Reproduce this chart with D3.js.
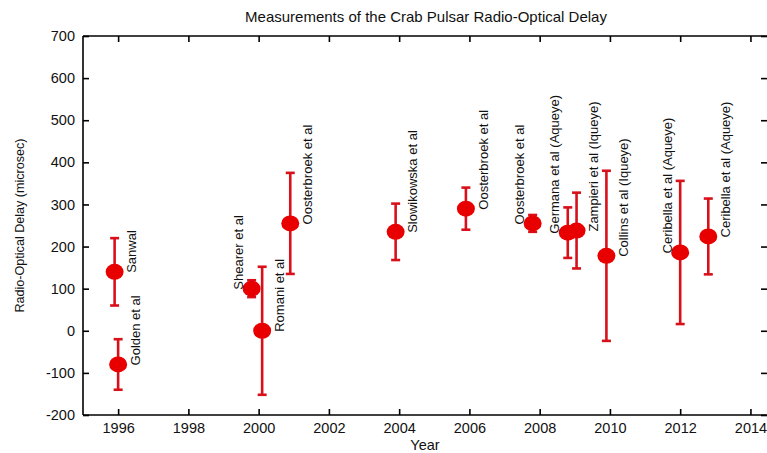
<!DOCTYPE html>
<html>
<head>
<meta charset="utf-8">
<script src="https://cdn.jsdelivr.net/npm/d3@7"></script>
<style>
  html, body { margin: 0; padding: 0; background: #fff; }
  svg { display: block; font-family: "Liberation Sans", Arial, sans-serif; }
</style>
</head>
<body>
<svg id="chart" width="767" height="453"></svg>
<script>
// Published radio-optical delay measurements of the Crab pulsar
const authors = [
  "Sanwal", "Golden et al", "Shearer et al", "Romani et al", "Oosterbroek et al",
  "Slowikowska et al", "Oosterbroek et al", "Oosterbroek et al", "Germana et al (Aqueye)",
  "Zampieri et al (Iqueye)", "Collins et al (Iqueye)", "Ceribella et al (Aqueye)", "Ceribella et al (Aqueye)"
];
const years  = [1995.9, 1996.0, 1999.8, 2000.1, 2000.9, 2003.9, 2005.9, 2007.8, 2008.8, 2009.05, 2009.9, 2012.0, 2012.8];
const delays = [140, -80, 100, 0, 255, 235, 290, 255, 233, 238, 178, 186, 224];
const errors = [80, 60, 20, 152, 120, 67, 50, 20, 60, 90, 202, 170, 90];

const yearTicks  = [1996, 1998, 2000, 2002, 2004, 2006, 2008, 2010, 2012, 2014];
const delayTicks = [-200, -100, 0, 100, 200, 300, 400, 500, 600, 700];

const svg = d3.select("#chart");
const L = 83, R = 768, T = 36, B = 415;

const x = d3.scaleLinear().domain([1995, 2014.5]).range([L, R]);
const y = d3.scaleLinear().domain([-200, 700]).range([B, T]);

const tickLen = 6;
const axisFont = "14.5px";
const plain = d => String(d);   // hyphen-minus, as printed on the axis

// Frame: bottom, top and left spines
svg.append("line").attr("x1", L).attr("x2", R).attr("y1", B).attr("y2", B)
  .attr("stroke", "#000").attr("stroke-width", 1.6);
svg.append("line").attr("x1", L).attr("x2", R).attr("y1", T).attr("y2", T)
  .attr("stroke", "#000").attr("stroke-width", 1.6);
svg.append("line").attr("x1", L).attr("x2", L).attr("y1", T).attr("y2", B)
  .attr("stroke", "#000").attr("stroke-width", 1.6);

// Bottom axis (ticks point inward)
const xAxis = d3.axisBottom(x).tickValues(yearTicks).tickFormat(plain)
  .tickSizeInner(-tickLen).tickSizeOuter(0).tickPadding(8);
const gx = svg.append("g").attr("transform", `translate(0,${B})`).call(xAxis);
gx.select(".domain").remove();
gx.selectAll("line").attr("stroke", "#000").attr("stroke-width", 1.6);
gx.selectAll("text").attr("font-size", axisFont).attr("fill", "#111")
  .attr("font-family", "Liberation Sans, Arial, sans-serif");

// Top ticks mirror the bottom ones
const xTop = d3.axisTop(x).tickValues(yearTicks).tickFormat("")
  .tickSizeInner(-tickLen).tickSizeOuter(0);
const gxt = svg.append("g").attr("transform", `translate(0,${T})`).call(xTop);
gxt.select(".domain").remove();
gxt.selectAll("line").attr("stroke", "#000").attr("stroke-width", 1.6);

// Left axis
const yAxis = d3.axisLeft(y).tickValues(delayTicks).tickFormat(plain)
  .tickSizeInner(-tickLen).tickSizeOuter(0).tickPadding(8);
const gy = svg.append("g").attr("transform", `translate(${L},0)`).call(yAxis);
gy.select(".domain").remove();
gy.selectAll("line").attr("stroke", "#000").attr("stroke-width", 1.6);
gy.selectAll("text").attr("font-size", axisFont).attr("fill", "#111")
  .attr("font-family", "Liberation Sans, Arial, sans-serif");

// Right ticks (the right spine sits at the edge)
const yRight = d3.axisRight(y).tickValues(delayTicks).tickFormat("")
  .tickSizeInner(-tickLen).tickSizeOuter(0);
const gyr = svg.append("g").attr("transform", `translate(${R - 1},0)`).call(yRight);
gyr.select(".domain").remove();
gyr.selectAll("line").attr("stroke", "#000").attr("stroke-width", 1.6);

// Title and axis titles
svg.append("text").attr("x", 426).attr("y", 22).attr("text-anchor", "middle")
  .attr("font-size", "15px").attr("fill", "#111")
  .text("Measurements of the Crab Pulsar Radio-Optical Delay");
svg.append("text").attr("x", 425).attr("y", 450).attr("text-anchor", "middle")
  .attr("font-size", "14.5px").attr("fill", "#111").text("Year");
svg.append("text")
  .attr("transform", `translate(24,${(T + B) / 2}) rotate(-90)`)
  .attr("text-anchor", "middle").attr("font-size", "13.5px").attr("fill", "#111")
  .attr("textLength", 174).attr("lengthAdjust", "spacingAndGlyphs")
  .text("Radio-Optical Delay (microsec)");

// Measurements
const rows = authors.map((a, i) => ({ author: a, year: years[i], delay: delays[i], err: errors[i], i }));
const leftLabelled = new Set([2, 7, 8, 11]);
const barColor = "#d8101a";
const dotColor = "#e80000";
const cap = 4.5;

const g = svg.append("g");
const bars = g.selectAll("g.bar").data(rows).join("g").attr("class", "bar");
bars.append("line")
  .attr("x1", d => x(d.year)).attr("x2", d => x(d.year))
  .attr("y1", d => y(d.delay + d.err)).attr("y2", d => y(d.delay - d.err))
  .attr("stroke", barColor).attr("stroke-width", 2.6);
bars.append("line")
  .attr("x1", d => x(d.year) - cap).attr("x2", d => x(d.year) + cap)
  .attr("y1", d => y(d.delay + d.err)).attr("y2", d => y(d.delay + d.err))
  .attr("stroke", barColor).attr("stroke-width", 2.6);
bars.append("line")
  .attr("x1", d => x(d.year) - cap).attr("x2", d => x(d.year) + cap)
  .attr("y1", d => y(d.delay - d.err)).attr("y2", d => y(d.delay - d.err))
  .attr("stroke", barColor).attr("stroke-width", 2.6);
bars.append("ellipse")
  .attr("cx", d => x(d.year)).attr("cy", d => y(d.delay))
  .attr("rx", 9).attr("ry", 8).attr("fill", dotColor);

// Author labels, rotated, starting level with each point
g.selectAll("text.lbl").data(rows).join("text").attr("class", "lbl")
  .attr("transform", d => {
    const dx = leftLabelled.has(d.i) ? -13 : 17;
    return `translate(${x(d.year) + dx},${y(d.delay) + 1}) rotate(-90)`;
  })
  .attr("dy", "0.36em")
  .attr("font-size", "13px").attr("fill", "#111")
  .text(d => d.author);
</script>
</body>
</html>
